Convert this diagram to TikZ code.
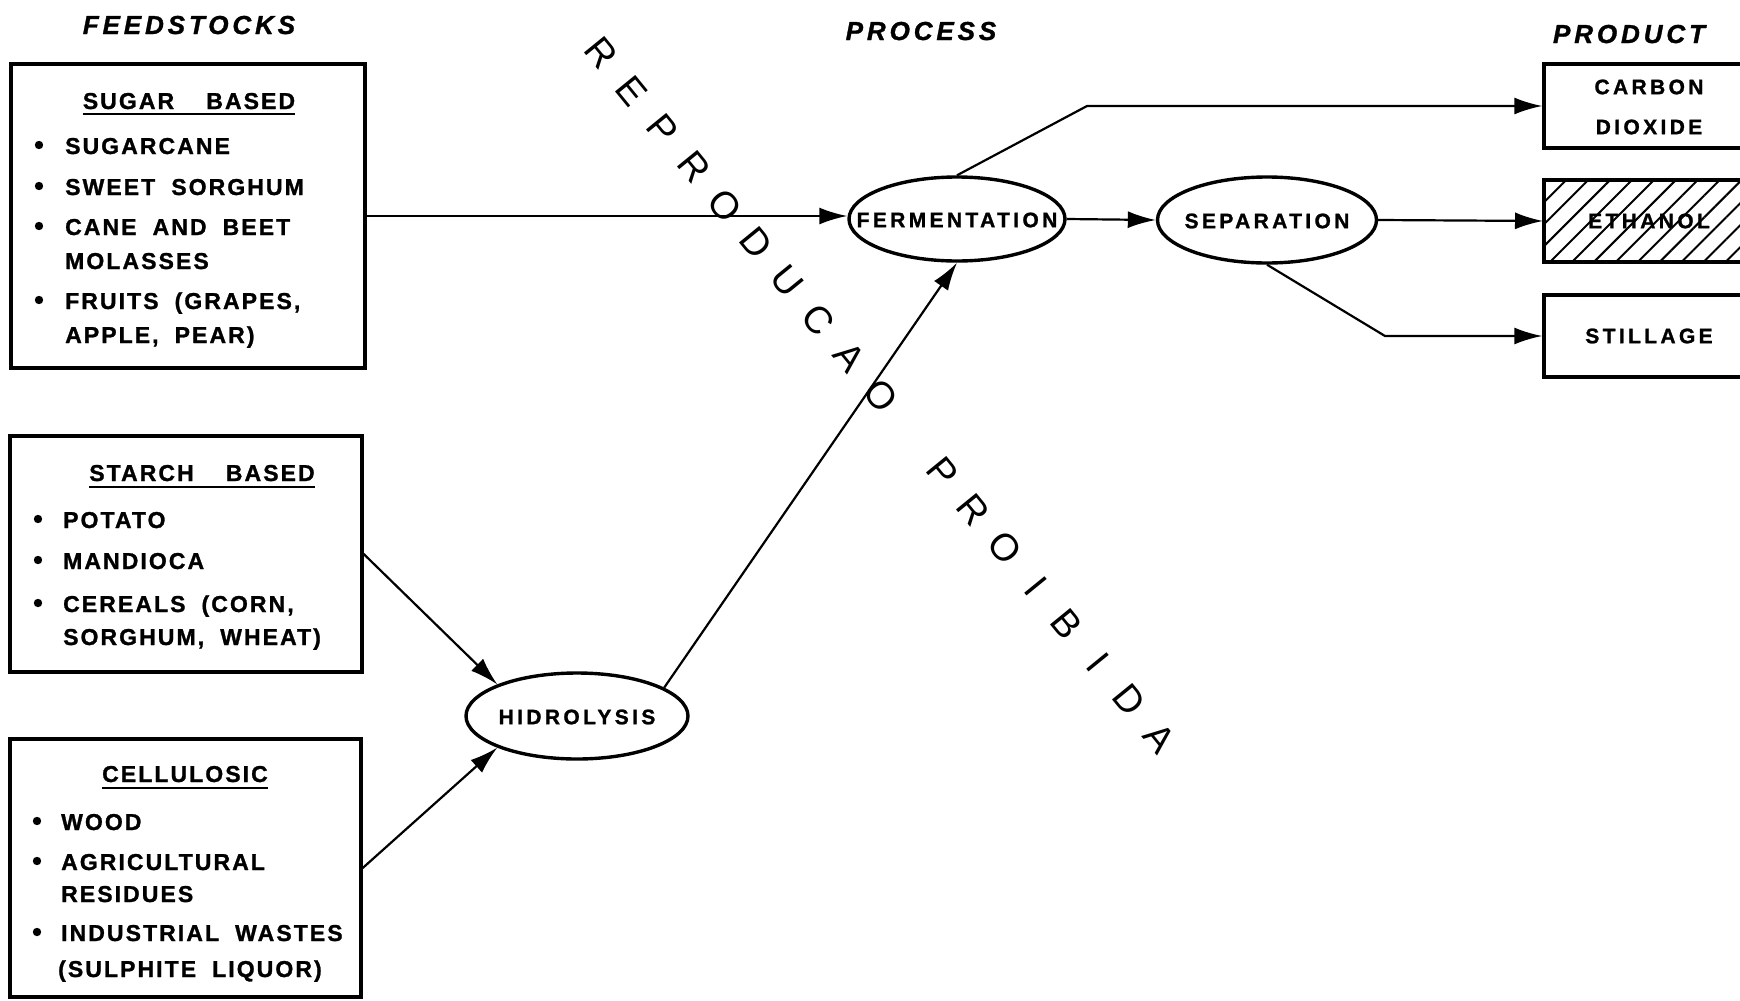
\documentclass[tikz,border=0pt]{standalone}
\usepackage{fontspec}
\setmainfont{Liberation Sans}
\newfontfamily\labfont{Liberation Sans}[LetterSpace=9, WordSpace=1.9, BoldFeatures={FakeBold=1.2}]
\newfontfamily\procfont{Liberation Sans}[LetterSpace=16, BoldFeatures={FakeBold=1.2}]
\newfontfamily\ttlfont{Liberation Sans}[LetterSpace=15, BoldItalicFeatures={FakeBold=1.2}]
\newfontfamily\wmfont{Liberation Sans}
\usetikzlibrary{shapes.geometric, arrows.meta, patterns.meta}
\begin{document}
\begin{tikzpicture}[x=1pt,y=-1pt,
  every node/.style={inner sep=0pt},
  itemtxt/.style={anchor=base west, font=\labfont\bfseries\fontsize{23}{28}\selectfont},
  boxttl/.style={anchor=base, font=\labfont\bfseries\fontsize{23}{28}\selectfont},
  head/.style={anchor=base, font=\ttlfont\bfseries\itshape\fontsize{26}{30}\selectfont},
  fbox/.style={draw, rectangle, line width=3.4pt},
  proc/.style={draw, ellipse, line width=3.4pt},
  proctxt/.style={font=\procfont\bfseries\fontsize{21}{24}\selectfont},
  prod/.style={draw, rectangle, line width=3.4pt, minimum width=230pt},
  prodtxt/.style={font=\procfont\bfseries\fontsize{21}{24}\selectfont, align=center},
  conn/.style={line width=2.2pt, -{Latex[length=28pt,width=17pt]}},
  uline/.style={line width=2.8pt},
  wm/.style={font=\wmfont\fontsize{38}{38}\selectfont, rotate=-50.8},
]
\useasboundingbox (0,0) rectangle (1740,1001);
\clip (0,0) rectangle (1740,1001);

% headings
\node[head] (hfeed) at (189,34) {FEEDSTOCKS};
\node[head] (hproc) at (921,40) {PROCESS};
\node[head] (hprod) at (1629,43) {PRODUCT};

% feedstock boxes
\node[fbox, minimum width=354pt, minimum height=304pt] (sugar) at (188,216) {};
\node[fbox, minimum width=352pt, minimum height=236pt] (starch) at (186,554) {};
\node[fbox, minimum width=351pt, minimum height=258pt] (cell) at (185.5,868) {};

% sugar contents
\node[boxttl] (sugT) at (189,109) {SUGAR\ \ BASED};
\draw[uline] ([yshift=-5pt]sugT.base west) -- ([yshift=-5pt]sugT.base east);
\node[itemtxt] (s1) at (65,154) {SUGARCANE};
\node[itemtxt] (s2) at (65,195) {SWEET SORGHUM};
\node[itemtxt] (s3) at (65,235) {CANE AND BEET};
\node[itemtxt] (s3b) at (65,269) {MOLASSES};
\node[itemtxt] (s4) at (65,309) {FRUITS (GRAPES,};
\node[itemtxt] (s4b) at (65,343) {APPLE, PEAR)};
\foreach \y in {145,186,226,300} \fill (39,\y) circle (4.2pt);

% starch contents
\node[boxttl] (staT) at (202,481) {STARCH\ \ BASED};
\draw[uline] ([yshift=-6pt]staT.base west) -- ([yshift=-6pt]staT.base east);
\node[itemtxt] (t1) at (63,528) {POTATO};
\node[itemtxt] (t2) at (63,569) {MANDIOCA};
\node[itemtxt] (t3) at (63,612) {CEREALS (CORN,};
\node[itemtxt] (t3b) at (63,645) {SORGHUM, WHEAT)};
\foreach \y in {519,560,603} \fill (38,\y) circle (4.2pt);

% cellulosic contents
\node[boxttl] (celT) at (185,782) {CELLULOSIC};
\draw[uline] ([yshift=-6pt]celT.base west) -- ([yshift=-6pt]celT.base east);
\node[itemtxt] (c1) at (61,830) {WOOD};
\node[itemtxt] (c2) at (61,870) {AGRICULTURAL};
\node[itemtxt] (c2b) at (61,902) {RESIDUES};
\node[itemtxt] (c3) at (61,941) {INDUSTRIAL WASTES};
\node[itemtxt] (c3b) at (58,977) {(SULPHITE LIQUOR)};
\foreach \y in {821,861,932} \fill (37,\y) circle (4.2pt);

% process ellipses
\node[proc, minimum width=216pt, minimum height=84pt] (ferm) at (957,219) {};
\node[proc, minimum width=219pt, minimum height=86pt] (sep) at (1267,220) {};
\node[proc, minimum width=222pt, minimum height=86pt] (hidro) at (577,716) {};
\node[proctxt] (fermT) at (957,220) {FERMENTATION};
\node[proctxt] (sepT) at (1267,221) {SEPARATION};
\node[proctxt] (hidroT) at (577,717) {HIDROLYSIS};

% products
\node[prod, minimum height=84pt] (co2) at (1659,106) {};
\node[prod, minimum height=82pt, pattern={Lines[angle=45,distance=15.5pt,line width=2pt]}] (eth) at (1659,221) {};
\node[prod, minimum height=82pt] (still) at (1659,336) {};
\node[prodtxt] (co2T) at (1649,107) {CARBON\\[16pt]DIOXIDE};
\node[prodtxt] (ethT) at (1649,221) {ETHANOL};
\node[prodtxt] (stillT) at (1649,336) {STILLAGE};

% connectors
\coordinate (kco2) at (1087,106);
\coordinate (kst) at (1385,336);
\draw[conn] (sugar.east) -- (sugar.east -| ferm.west);
\draw[conn] (starch.east) -- (hidro.north west);
\draw[conn] (cell.east) -- (hidro.south west);
\draw[conn] (hidro.18) -- (ferm.south);
\draw[conn] (ferm.north) -- (kco2) -- (co2.west);
\draw[conn] (ferm.east) -- (sep.west);
\draw[conn] (sep.east) -- (eth.west);
\draw[conn] (sep.south) -- (kst) -- (still.west);

% watermark
\foreach \c [count=\i from 0] in {R,E,P,R,O,D,U,C,A,O,{},P,R,O,I,B,I,D,A}
  \node[wm] (wm\i) at ({601+31.06*\i},{53+38.06*\i}) {\c};
\end{tikzpicture}
\end{document}
